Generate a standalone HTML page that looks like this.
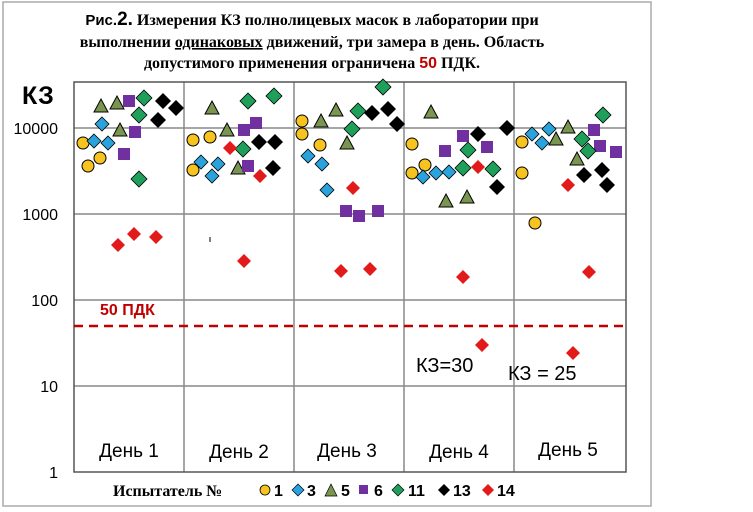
<!DOCTYPE html>
<html><head><meta charset="utf-8"><style>
body{margin:0;background:#fff;}
svg{display:block;}
</style></head><body>
<svg width="753" height="512" xmlns="http://www.w3.org/2000/svg">
<defs>
<circle id="c" r="6" fill="#f7c31f" stroke="#000" stroke-width="1"/>
<path id="b" d="M0,-7 L7,0 L0,7 L-7,0Z" fill="#2aa3dc" stroke="#000" stroke-width="0.8"/>
<path id="t" d="M0,-7 L7,6 L-7,6Z" fill="#7a9550" stroke="#000" stroke-width="1"/>
<rect id="p" x="-6" y="-6" width="12" height="12" fill="#7030a0"/>
<path id="g" d="M0,-8 L8,0 L0,8 L-8,0Z" fill="#1fa05a" stroke="#000" stroke-width="0.8"/>
<path id="k" d="M0,-8 L8,0 L0,8 L-8,0Z" fill="#000"/>
<path id="r" d="M0,-7 L7,0 L0,7 L-7,0Z" fill="#e31a1a"/>
</defs>
<rect x="3" y="2" width="648" height="504" fill="#fff" stroke="#aaa" stroke-width="1.5"/>
<g font-family="Liberation Serif, serif" font-weight="bold" font-size="16" text-anchor="middle">
<text x="312" y="25"><tspan font-family="Liberation Sans, sans-serif" font-size="15">Рис.</tspan><tspan font-family="Liberation Sans, sans-serif" font-size="19">2.</tspan> Измерения КЗ полнолицевых масок в лаборатории при</text>
<text x="312" y="47">выполнении <tspan text-decoration="underline">одинаковых</tspan> движений, три замера в день. Область</text>
<text x="312" y="68">допустимого применения ограничена <tspan fill="#c00000" font-family="Liberation Sans, sans-serif">50</tspan> ПДК.</text>
</g>
<g stroke="#a6a6a6" stroke-width="2">
<line x1="74" y1="128" x2="626" y2="128"/><line x1="74" y1="214" x2="626" y2="214"/>
<line x1="74" y1="300" x2="626" y2="300"/><line x1="74" y1="386" x2="626" y2="386"/>
</g>
<g stroke="#888" stroke-width="1.5">
<line x1="184" y1="82" x2="184" y2="472"/><line x1="294" y1="82" x2="294" y2="472"/>
<line x1="404" y1="82" x2="404" y2="472"/><line x1="514" y1="82" x2="514" y2="472"/>
</g>
<rect x="74" y="82" width="552" height="390" fill="none" stroke="#555" stroke-width="1.5"/>
<line x1="74" y1="326" x2="626" y2="326" stroke="#c00000" stroke-width="2.5" stroke-dasharray="9,6"/>
<g font-family="Liberation Sans, sans-serif" font-size="16" text-anchor="end" fill="#000">
<text x="58" y="134">10000</text><text x="58" y="220">1000</text><text x="58" y="306">100</text>
<text x="58" y="392">10</text><text x="58" y="478">1</text>
</g>
<text x="22" y="104" font-family="Liberation Sans, sans-serif" font-weight="bold" font-size="25">КЗ</text>
<text x="100" y="315" font-family="Liberation Sans, sans-serif" font-weight="bold" font-size="16" fill="#c00000">50 ПДК</text>
<text x="416" y="372" font-family="Liberation Sans, sans-serif" font-size="20">КЗ=30</text>
<text x="508" y="380" font-family="Liberation Sans, sans-serif" font-size="20">КЗ = 25</text>
<g font-family="Liberation Sans, sans-serif" font-size="19" text-anchor="middle">
<text x="129" y="457">День 1</text><text x="239" y="458">День 2</text><text x="347" y="457">День 3</text>
<text x="459" y="458">День 4</text><text x="568" y="456">День 5</text>
</g>
<line x1="210" y1="237" x2="210" y2="242" stroke="#000"/>
<g>
<use href="#c" x="83" y="143"/><use href="#c" x="100" y="158"/><use href="#c" x="88" y="166"/>
<use href="#b" x="102" y="124"/><use href="#b" x="94" y="141"/><use href="#b" x="108" y="143"/>
<use href="#t" x="101" y="106"/><use href="#t" x="117" y="103"/><use href="#t" x="120" y="130"/>
<use href="#p" x="129" y="101"/><use href="#p" x="135" y="132"/><use href="#p" x="124" y="154"/>
<use href="#g" x="144" y="98"/><use href="#g" x="139" y="115"/><use href="#g" x="139" y="179"/>
<use href="#k" x="163" y="101"/><use href="#k" x="176" y="108"/><use href="#k" x="158" y="120"/>
<use href="#r" x="118" y="245"/><use href="#r" x="134" y="234"/><use href="#r" x="156" y="237"/>

<use href="#c" x="193" y="140"/><use href="#c" x="210" y="137"/><use href="#c" x="193" y="170"/>
<use href="#b" x="201" y="162"/><use href="#b" x="218" y="164"/><use href="#b" x="212" y="176"/>
<use href="#t" x="212" y="108"/><use href="#t" x="227" y="130"/><use href="#t" x="238" y="168"/>
<use href="#p" x="244" y="130"/><use href="#p" x="256" y="123"/><use href="#p" x="248" y="166"/>
<use href="#g" x="248" y="101"/><use href="#g" x="274" y="96"/><use href="#g" x="243" y="149"/>
<use href="#k" x="259" y="142"/><use href="#k" x="275" y="142"/><use href="#k" x="273" y="168"/>
<use href="#r" x="230" y="148"/><use href="#r" x="260" y="176"/><use href="#r" x="244" y="261"/>

<use href="#c" x="302" y="121"/><use href="#c" x="302" y="134"/><use href="#c" x="320" y="145"/>
<use href="#b" x="308" y="156"/><use href="#b" x="322" y="164"/><use href="#b" x="327" y="190"/>
<use href="#t" x="321" y="121"/><use href="#t" x="336" y="110"/><use href="#t" x="347" y="143"/>
<use href="#p" x="346" y="211"/><use href="#p" x="359" y="216"/><use href="#p" x="378" y="211"/>
<use href="#g" x="383" y="87"/><use href="#g" x="358" y="111"/><use href="#g" x="352" y="129"/>
<use href="#k" x="372" y="113"/><use href="#k" x="388" y="109"/><use href="#k" x="397" y="124"/>
<use href="#r" x="353" y="188"/><use href="#r" x="341" y="271"/><use href="#r" x="370" y="269"/>

<use href="#c" x="412" y="144"/><use href="#c" x="425" y="165"/><use href="#c" x="412" y="173"/>
<use href="#b" x="423" y="177"/><use href="#b" x="436" y="173"/><use href="#b" x="449" y="172"/>
<use href="#t" x="431" y="112"/><use href="#t" x="446" y="201"/><use href="#t" x="467" y="197"/>
<use href="#p" x="463" y="136"/><use href="#p" x="445" y="151"/><use href="#p" x="487" y="147"/>
<use href="#g" x="468" y="150"/><use href="#g" x="463" y="168"/><use href="#g" x="493" y="169"/>
<use href="#k" x="478" y="134"/><use href="#k" x="507" y="128"/><use href="#k" x="497" y="187"/>
<use href="#r" x="478" y="167"/><use href="#r" x="463" y="277"/><use href="#r" x="482" y="345"/>

<use href="#c" x="522" y="142"/><use href="#c" x="522" y="173"/><use href="#c" x="535" y="223"/>
<use href="#b" x="532" y="134"/><use href="#b" x="549" y="129"/><use href="#b" x="542" y="143"/>
<use href="#t" x="568" y="127"/><use href="#t" x="556" y="139"/><use href="#t" x="577" y="159"/>
<use href="#p" x="594" y="130"/><use href="#p" x="600" y="146"/><use href="#p" x="616" y="152"/>
<use href="#g" x="603" y="115"/><use href="#g" x="582" y="139"/><use href="#g" x="588" y="151"/>
<use href="#k" x="584" y="175"/><use href="#k" x="602" y="170"/><use href="#k" x="607" y="185"/>
<use href="#r" x="568" y="185"/><use href="#r" x="589" y="272"/><use href="#r" x="573" y="353"/>
</g>
<g font-weight="bold" font-size="16">
<text x="113" y="496" font-family="Liberation Serif, serif">Испытатель №</text>
<g font-family="Liberation Sans, sans-serif">
<circle cx="265" cy="490" r="5" fill="#f7c31f" stroke="#000" stroke-width="0.8"/><text x="274" y="496">1</text>
<path d="M298,484 L304,490 L298,496 L292,490Z" fill="#2aa3dc" stroke="#000" stroke-width="0.7"/><text x="307" y="496">3</text>
<path d="M331,484 L337,496 L325,496Z" fill="#7a9550" stroke="#000" stroke-width="0.7"/><text x="341" y="496">5</text>
<rect x="359" y="485" width="9" height="9" fill="#7030a0"/><text x="374" y="496">6</text>
<path d="M398,484 L404,490 L398,496 L392,490Z" fill="#1fa05a" stroke="#000" stroke-width="0.7"/><text x="408" y="496">11</text>
<path d="M444,484 L450,490 L444,496 L438,490Z" fill="#000"/><text x="453" y="496">13</text>
<path d="M488,484 L494,490 L488,496 L482,490Z" fill="#e31a1a"/><text x="497" y="496">14</text>
</g></g>
</svg>
</body></html>
